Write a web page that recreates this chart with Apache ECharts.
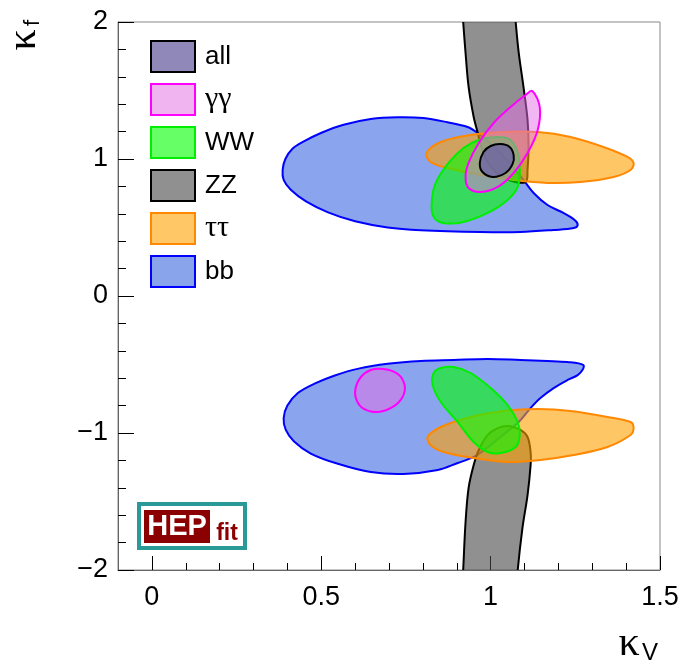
<!DOCTYPE html>
<html>
<head>
<meta charset="utf-8">
<script src="https://cdn.jsdelivr.net/npm/echarts@6/dist/echarts.min.js"></script>
<style>
  html, body { margin: 0; padding: 0; background: #fff; }
  #chart { width: 682px; height: 662px; }
</style>
</head>
<body>
<div id="chart"></div>
<script>
  const xMajorTicks = [0, 0.5, 1, 1.5]
  const xMinorTicks = [0.1, 0.2, 0.3, 0.4, 0.6, 0.7, 0.8, 0.9, 1.1, 1.2, 1.3, 1.4]
  const legendNames = ['all', 'γγ', 'WW', 'ZZ', 'ττ', 'bb']

  // contour points, [kappaV, kappaF]
  const bbUpper = [[0.386, 0.920], [0.394, 1.000], [0.415, 1.075], [0.450, 1.130], [0.499, 1.190], [0.566, 1.250], [0.646, 1.292],
    [0.726, 1.305], [0.802, 1.299], [0.873, 1.268], [0.932, 1.234], [0.962, 1.190], [1.006, 1.102], [1.053, 0.978],
    [1.097, 0.847], [1.127, 0.752], [1.168, 0.664], [1.215, 0.606], [1.248, 0.555], [1.257, 0.518], [1.245, 0.496],
    [1.186, 0.482], [1.088, 0.467], [0.971, 0.467], [0.794, 0.480], [0.696, 0.500], [0.600, 0.545], [0.520, 0.610],
    [0.455, 0.690], [0.410, 0.775], [0.389, 0.847]]
  const bbLower = [[0.389, -0.891], [0.400, -0.800], [0.430, -0.710], [0.480, -0.640], [0.540, -0.580], [0.610, -0.530], [0.696, -0.495],
    [0.794, -0.474], [0.891, -0.467], [0.991, -0.460], [1.088, -0.467], [1.168, -0.474], [1.227, -0.482], [1.274, -0.504],
    [1.271, -0.540], [1.257, -0.577], [1.227, -0.613], [1.186, -0.672], [1.147, -0.745], [1.118, -0.818], [1.083, -0.920],
    [1.029, -1.029], [0.985, -1.117], [0.950, -1.175], [0.903, -1.219], [0.844, -1.270], [0.743, -1.299], [0.646, -1.285],
    [0.549, -1.225], [0.469, -1.150], [0.419, -1.060], [0.395, -0.975]]

  const zzUpper = [[0.917, 2.08], [0.919, 2.0], [0.926, 1.774], [0.935, 1.526], [0.950, 1.307], [0.962, 1.190],
    [0.971, 1.102], [0.988, 0.993], [1.015, 0.905], [1.053, 0.847], [1.103, 0.832], [1.109, 0.920], [1.112, 1.088],
    [1.109, 1.285], [1.097, 1.526], [1.083, 1.774], [1.074, 2.0], [1.072, 2.08]]
  const zzLower = [[0.917, -2.08], [0.919, -2.0], [0.926, -1.650], [0.935, -1.401], [0.950, -1.234], [0.965, -1.124],
    [0.991, -1.015], [1.021, -0.964], [1.053, -0.949], [1.088, -0.978], [1.109, -1.029], [1.118, -1.139], [1.118, -1.234],
    [1.109, -1.453], [1.094, -1.693], [1.080, -2.0], [1.079, -2.08]]

  const tautauUpper = [[0.811, 1.044], [0.853, 1.124], [0.941, 1.175], [1.038, 1.197], [1.139, 1.197], [1.236, 1.161],
    [1.333, 1.088], [1.404, 1.015], [1.422, 0.971], [1.413, 0.920], [1.363, 0.869], [1.265, 0.832], [1.168, 0.825],
    [1.068, 0.847], [0.971, 0.883], [0.873, 0.934], [0.823, 0.978]]
  const tautauLower = [[0.814, -1.029], [0.853, -0.956], [0.941, -0.883], [1.038, -0.839], [1.139, -0.825], [1.236, -0.839],
    [1.345, -0.883], [1.413, -0.920], [1.422, -0.964], [1.413, -1.015], [1.345, -1.102], [1.245, -1.161], [1.147, -1.197],
    [1.050, -1.212], [0.950, -1.182], [0.861, -1.139], [0.823, -1.088]]

  const wwUpper = [[1.059, 1.139], [1.080, 1.044], [1.086, 0.920], [1.080, 0.796], [1.050, 0.701], [0.991, 0.606],
    [0.920, 0.540], [0.861, 0.533], [0.832, 0.577], [0.826, 0.679], [0.838, 0.825], [0.876, 0.971], [0.920, 1.080],
    [0.965, 1.139], [1.021, 1.161]]
  const wwLower = [[0.853, -0.526], [0.891, -0.518], [0.941, -0.562], [1.000, -0.672], [1.050, -0.796], [1.080, -0.920],
    [1.086, -1.015], [1.074, -1.102], [1.029, -1.146], [0.991, -1.139], [0.950, -1.066], [0.903, -0.920], [0.853, -0.774],
    [0.829, -0.650], [0.832, -0.562]]

  const gagaUpper = [[1.123, 1.496], [1.145, 1.380], [1.139, 1.212], [1.109, 1.044], [1.068, 0.898], [1.021, 0.796],
    [0.971, 0.759], [0.935, 0.788], [0.926, 0.869], [0.935, 0.971], [0.965, 1.117], [1.009, 1.263], [1.059, 1.380],
    [1.103, 1.467]]
  const gagaLower = [[0.646, -0.540], [0.684, -0.533], [0.726, -0.569], [0.746, -0.650], [0.740, -0.737], [0.711, -0.810],
    [0.667, -0.847], [0.622, -0.818], [0.602, -0.745], [0.602, -0.664], [0.617, -0.591]]

  const allRegion = [[1.029, 1.109], [1.056, 1.088], [1.068, 1.029], [1.065, 0.964], [1.044, 0.898], [1.006, 0.869],
    [0.976, 0.905], [0.968, 0.971], [0.979, 1.051], [1.000, 1.095]]

  const chart = echarts.init(document.getElementById('chart'))

  function contour(name, parts, fill, stroke, legendFill) {
    return {
      name: name,
      type: 'custom',
      coordinateSystem: 'cartesian2d',
      clip: true,
      itemStyle: { color: legendFill, borderColor: stroke, borderWidth: 2 },
      data: parts.map((p, i) => [p[0][0], p[0][1], i]),
      renderItem(params, api) {
        const pts = parts[api.value(2)].map(p => api.coord(p))
        return {
          type: 'polygon',
          shape: { points: pts, smooth: 0.35 },
          style: { fill: fill, stroke: stroke, lineWidth: 2 }
        }
      }
    }
  }

  const legendStyle = {
    'all': ['#8f88b8', '#000000'],
    'γγ': ['#f0b4f0', '#ff00ff'],
    'WW': ['#66ff66', '#00ee00'],
    'ZZ': ['#909090', '#000000'],
    'ττ': ['#ffc766', '#ff8800'],
    'bb': ['#8aa4ec', '#0000ff']
  }

  const axisFont = { fontSize: 27, fontFamily: 'Liberation Sans', color: '#000' }

  chart.setOption({
    animation: false,
    grid: { left: 118, right: 22, top: 22, bottom: 92, show: true, borderColor: '#888', borderWidth: 1 },
    legend: {
      orient: 'vertical',
      left: 150,
      top: 40,
      padding: 0,
      itemWidth: 44,
      itemHeight: 31,
      itemGap: 10,
      icon: 'rect',
      selectedMode: false,
      data: legendNames.map(n => ({
        name: n,
        itemStyle: { color: legendStyle[n][0], borderColor: legendStyle[n][1], borderWidth: 2 }
      })),
      formatter: n => /[γτ]/.test(n) ? '{g|' + n + '}' : n,
      textStyle: {
        fontSize: 26, fontFamily: 'Liberation Sans', color: '#000', padding: [0, 0, 0, 5], lineHeight: 28,
        rich: { g: { fontSize: 30, fontFamily: 'Liberation Serif', color: '#000', lineHeight: 28 } }
      }
    },
    xAxis: [{
      type: 'value', min: -0.1, max: 1.5,
      axisLine: { onZero: false, lineStyle: { color: '#666' } },
      axisTick: { inside: true, length: 14, customValues: xMajorTicks, lineStyle: { color: '#000' } },
      axisLabel: { customValues: xMajorTicks, margin: 14, ...axisFont },
      splitLine: { show: false }
    }, {
      type: 'value', min: -0.1, max: 1.5, position: 'bottom',
      axisLine: { show: false, onZero: false },
      axisTick: { inside: true, length: 7, customValues: xMinorTicks, lineStyle: { color: '#000' } },
      axisLabel: { show: false },
      splitLine: { show: false }
    }],
    yAxis: {
      type: 'value', min: -2, max: 2, interval: 1,
      axisLine: { show: true, onZero: false, lineStyle: { color: '#666' } },
      axisTick: { show: true, inside: true, length: 16, lineStyle: { color: '#000' } },
      minorTick: { show: true, splitNumber: 5, length: 8, lineStyle: { color: '#000' } },
      axisLabel: { margin: 10, formatter: v => String(v).replace('-', '\u2212'), ...axisFont },
      splitLine: { show: false }
    },
    series: [
      contour('bb', [bbUpper, bbLower], 'rgba(30,80,220,0.52)', '#0000ff', '#8aa4ec'),
      contour('ZZ', [zzUpper, zzLower], 'rgba(70,70,70,0.6)', '#000000', '#909090'),
      contour('ττ', [tautauUpper, tautauLower], 'rgba(255,160,0,0.6)', '#ff8800', '#ffc766'),
      contour('WW', [wwUpper, wwLower], 'rgba(0,255,0,0.6)', '#00ee00', '#66ff66'),
      contour('γγ', [gagaUpper, gagaLower], 'rgba(230,110,230,0.5)', '#ff00ff', '#f0b4f0'),
      contour('all', [allRegion], 'rgba(70,55,190,0.45)', '#000000', '#8f88b8')
    ],
    graphic: [
      { type: 'text', x: 24, y: 40, rotation: Math.PI / 2,
        style: { text: 'κ', fontSize: 42, fontFamily: 'Liberation Serif', fill: '#000', align: 'center', verticalAlign: 'middle' } },
      { type: 'text', x: 33, y: 23, rotation: Math.PI / 2,
        style: { text: 'f', fontSize: 22, fontFamily: 'Liberation Sans', fill: '#000', align: 'center', verticalAlign: 'middle' } },
      { type: 'text', x: 629, y: 644,
        style: { text: 'κ', fontSize: 42, fontFamily: 'Liberation Serif', fill: '#000', align: 'center', verticalAlign: 'middle' } },
      { type: 'text', x: 650, y: 653,
        style: { text: 'V', fontSize: 24, fontFamily: 'Liberation Sans', fill: '#000', align: 'center', verticalAlign: 'middle' } },
      // HEPfit logo
      { type: 'rect', shape: { x: 139, y: 504, width: 106, height: 44 },
        style: { fill: '#fff', stroke: '#2a9a98', lineWidth: 4 } },
      { type: 'rect', shape: { x: 144, y: 510, width: 66, height: 33 }, style: { fill: '#8b0000' } },
      { type: 'text', x: 177, y: 527,
        style: { text: 'HEP', fontSize: 29, fontWeight: 'bold', fontFamily: 'Liberation Sans', fill: '#fff', align: 'center', verticalAlign: 'middle' } },
      { type: 'text', x: 227, y: 534,
        style: { text: 'fit', fontSize: 23, fontWeight: 'bold', fontFamily: 'Liberation Sans', fill: '#8b0000', align: 'center', verticalAlign: 'middle' } }
    ]
  })
</script>
</body>
</html>
